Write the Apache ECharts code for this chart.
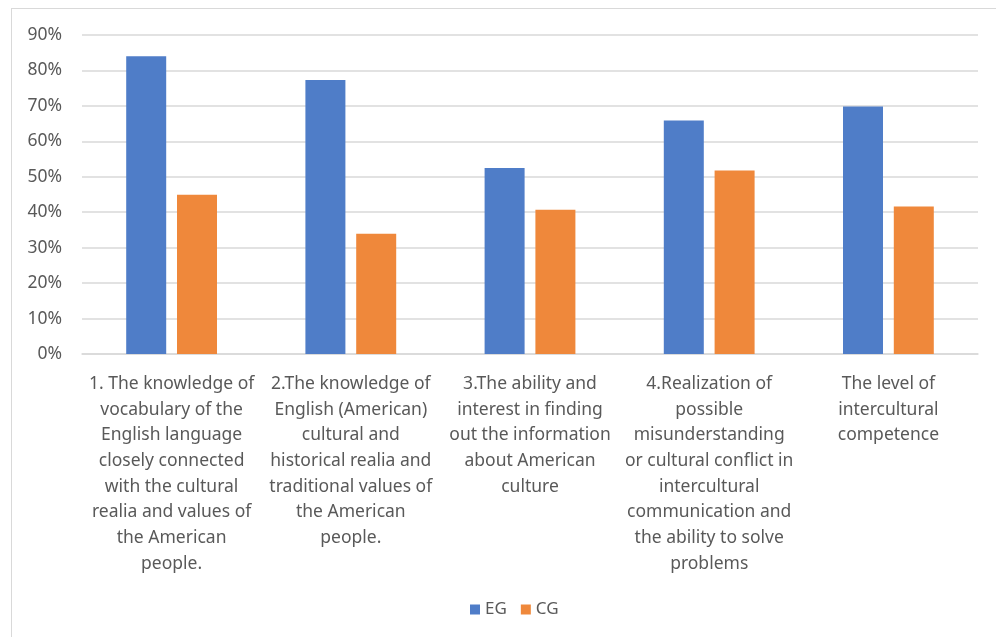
<!DOCTYPE html>
<html>
<head>
<meta charset="utf-8">
<script src="https://cdn.jsdelivr.net/npm/echarts@6/dist/echarts.min.js"></script>
<style>
  html, body { margin: 0; padding: 0; background: #fff; }
  #frame { position: absolute; left: 11px; top: 8px; width: 1000px; height: 640px; border: 1px solid #d9d9d9; box-sizing: border-box; }
  #chart { position: absolute; left: 0; top: 0; width: 996px; height: 637px; }
</style>
</head>
<body>
<div id="frame"></div>
<div id="chart"></div>
<script>
// categories (line breaks as in the original)
const categories = [
  '1. The knowledge of\nvocabulary of the\nEnglish language\nclosely connected\nwith the cultural\nrealia and values of\nthe American\npeople.',
  '2.The knowledge of\nEnglish (American)\ncultural and\nhistorical realia and\ntraditional values of\nthe American\npeople.',
  '3.The ability and\ninterest in finding\nout the information\nabout American\nculture',
  '4.Realization of\npossible\nmisunderstanding\nor cultural conflict in\nintercultural\ncommunication and\nthe ability to solve\nproblems',
  'The level of\nintercultural\ncompetence'
];

// percentages
const egValues = [84, 77.3, 52.5, 65.9, 69.8];
const cgValues = [44.9, 33.9, 40.7, 51.8, 41.6];

const seriesNames = ['EG', 'CG'];

const chart = echarts.init(document.getElementById('chart'));

const textColor = '#595959';
const fontFamily = '"Noto Sans", "Open Sans", sans-serif';

chart.setOption({
  animation: false,
  textStyle: { fontFamily: fontFamily },
  grid: { left: 82, right: 18, top: 35, bottom: 283 },
  legend: {
    data: seriesNames,
    left: 465,
    top: 596,
    icon: 'rect',
    itemWidth: 10,
    itemHeight: 10,
    itemGap: 14,
    itemStyle: { borderWidth: 0 },
    textStyle: { color: textColor, fontSize: 17, fontFamily: fontFamily }
  },
  xAxis: {
    type: 'category',
    data: categories,
    axisLine: { lineStyle: { color: '#d9d9d9', width: 1.5 } },
    axisTick: { show: false },
    axisLabel: {
      interval: 0,
      color: textColor,
      fontSize: 17.5,
      lineHeight: 25.7,
      margin: 17,
      fontFamily: fontFamily
    }
  },
  yAxis: {
    type: 'value',
    min: 0,
    max: 90,
    interval: 10,
    axisLine: { show: false },
    axisTick: { show: false },
    splitLine: { lineStyle: { color: '#d9d9d9', width: 1.5 } },
    axisLabel: {
      formatter: '{value}%',
      color: textColor,
      fontSize: 17.5,
      margin: 20,
      fontFamily: fontFamily
    }
  },
  series: [
    {
      name: seriesNames[0],
      type: 'bar',
      data: egValues,
      barWidth: 40,
      barGap: '27%',
      itemStyle: { color: '#4f7dc8' }
    },
    {
      name: seriesNames[1],
      type: 'bar',
      data: cgValues,
      barWidth: 40,
      itemStyle: { color: '#ef883b' }
    }
  ]
});
</script>
</body>
</html>
